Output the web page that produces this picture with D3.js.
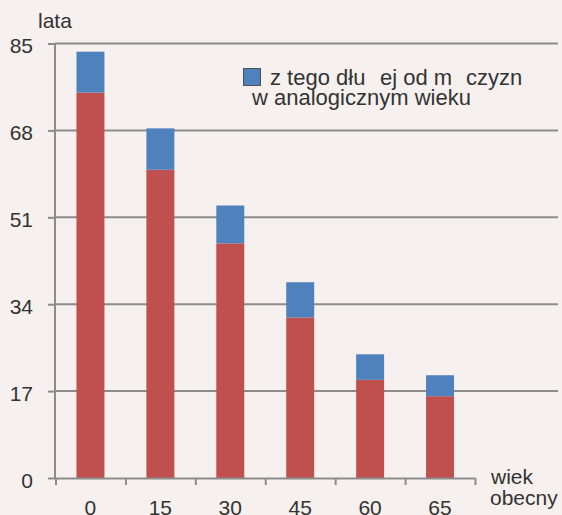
<!DOCTYPE html>
<html>
<head>
    <title>Stacked bars</title>
    <style>
        body { margin: 0; background: #f6f1ee; }
        text { font-family: "Liberation Sans", Arial, sans-serif; fill: #333; }
    </style>
    <script src="https://d3js.org/d3.v7.min.js"></script>
</head>
<body>
    <div id="chart"></div>

    <script>
        // data
        var categories = ['0', '15', '30', '45', '60', '65'];
        var menValues = [75.4, 60.3, 45.9, 31.4, 19.2, 16.0];      // red part
        var extraValues = [8.0, 8.1, 7.4, 6.9, 5.0, 4.1];          // blue part (women minus men)
        var yTicks = [0, 17, 34, 51, 68, 85];

        var W = 562, H = 515;
        var svg = d3.select('#chart').append('svg')
            .attr('width', W)
            .attr('height', H);

        svg.append('rect').attr('width', W).attr('height', H).attr('fill', '#f6f1ee');

        var yScale = d3.scaleLinear().domain([0, 85]).range([478, 43.5]);
        var xBand = d3.scaleBand().domain(categories).range([55.5, 475])
            .paddingInner(0.6).paddingOuter(0.3);
        var xEdge = d3.scaleLinear().domain([0, categories.length]).range([55.5, 475]);

        // gridlines
        svg.append('g').selectAll('line')
            .data(yTicks.slice(1))
            .enter().append('line')
            .attr('x1', 55).attr('x2', 558)
            .attr('y1', function(d) { return yScale(d); })
            .attr('y2', function(d) { return yScale(d); })
            .attr('stroke', '#8c8c8c')
            .attr('stroke-width', 2);

        // bars
        var rows = categories.map(function(c, i) {
            return { cat: c, men: menValues[i], extra: extraValues[i] };
        });
        var bars = svg.append('g');
        bars.selectAll('.men').data(rows).enter().append('rect')
            .attr('x', function(d) { return xBand(d.cat); })
            .attr('width', xBand.bandwidth())
            .attr('y', function(d) { return yScale(d.men); })
            .attr('height', function(d) { return yScale(0) - yScale(d.men); })
            .attr('fill', '#c0504d');
        bars.selectAll('.extra').data(rows).enter().append('rect')
            .attr('x', function(d) { return xBand(d.cat); })
            .attr('width', xBand.bandwidth())
            .attr('y', function(d) { return yScale(d.men + d.extra); })
            .attr('height', function(d) { return yScale(d.men) - yScale(d.men + d.extra); })
            .attr('fill', '#4f81bd');

        // y axis
        var yAxis = d3.axisLeft(yScale).tickValues(yTicks).tickSize(7).tickPadding(15);
        var gy = svg.append('g').attr('transform', 'translate(55,0)').call(yAxis);
        gy.select('.domain').remove();
        gy.append('line').attr('x1', 0).attr('x2', 0)
            .attr('y1', yScale(85)).attr('y2', yScale(0) + 1)
            .attr('stroke', '#8c8c8c').attr('stroke-width', 2);
        gy.selectAll('.tick line').attr('stroke', '#8c8c8c').attr('stroke-width', 2);
        gy.selectAll('.tick text').attr('font-size', 21).attr('fill', '#333')
            .attr('font-family', '"Liberation Sans", Arial, sans-serif')
            .attr('dy', '0.43em');

        // x axis (edges only)
        var xAxis = d3.axisBottom(xEdge).tickValues(d3.range(categories.length + 1))
            .tickFormat('').tickSize(7).tickSizeOuter(0);
        var gx = svg.append('g').attr('transform', 'translate(0,478)').call(xAxis);
        gx.select('.domain').attr('stroke', '#8c8c8c').attr('stroke-width', 2);
        gx.selectAll('.tick line').attr('stroke', '#8c8c8c').attr('stroke-width', 2);

        svg.append('g').selectAll('text')
            .data(categories)
            .enter().append('text')
            .attr('x', function(d) { return xBand(d) + xBand.bandwidth() / 2; })
            .attr('y', 515)
            .attr('text-anchor', 'middle')
            .attr('font-size', 21)
            .text(function(d) { return d; });

        svg.append('text').attr('x', 38).attr('y', 28).attr('font-size', 21).text('lata');
        svg.append('text').attr('x', 491).attr('y', 484).attr('font-size', 21).text('wiek');
        svg.append('text').attr('x', 490).attr('y', 505).attr('font-size', 21).text('obecny');

        // legend
        svg.append('rect').attr('x', 243.5).attr('y', 68.5).attr('width', 17).attr('height', 17)
            .attr('fill', '#4f81bd').attr('stroke', '#505050').attr('stroke-width', 1);
        var leg = svg.append('text').attr('y', 85).attr('font-size', 22);
        leg.append('tspan').attr('x', 270).text('z tego d\u0142u');
        leg.append('tspan').attr('x', 380).text('ej od m');
        leg.append('tspan').attr('x', 466).text('czyzn');
        svg.append('text').attr('x', 252).attr('y', 105).attr('font-size', 22)
            .text('w analogicznym wieku');
    </script>
</body>
</html>
